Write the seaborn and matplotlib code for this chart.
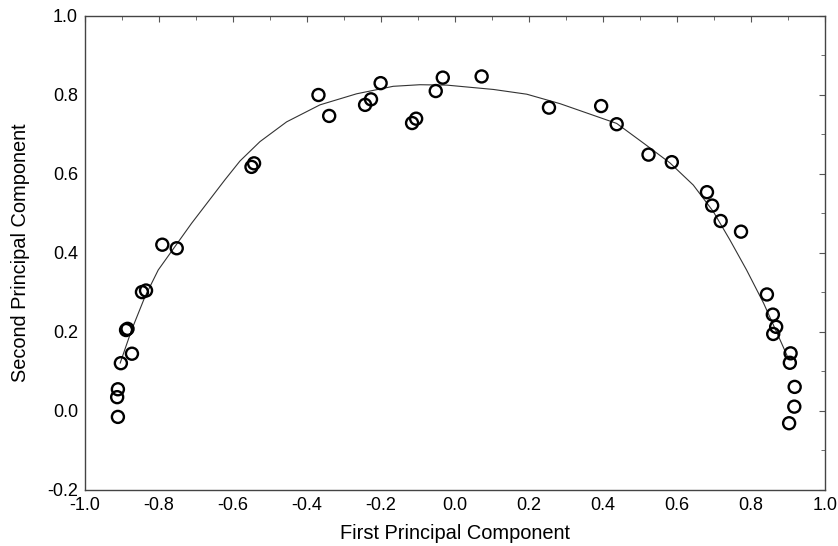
import matplotlib
matplotlib.use("Agg")
import matplotlib.pyplot as plt
import seaborn as sns
import pandas as pd
from matplotlib.ticker import MultipleLocator

# observed scores
pc1 = [-0.911, -0.913, -0.911, -0.903, -0.873, -0.889, -0.885, -0.846, -0.835,
       -0.791, -0.752, -0.550, -0.543, -0.369, -0.340, -0.243, -0.227, -0.201,
       -0.116, -0.105, -0.052, -0.033, 0.072, 0.254, 0.395, 0.437, 0.523,
       0.586, 0.681, 0.695, 0.718, 0.773, 0.843, 0.859, 0.868, 0.860, 0.907,
       0.905, 0.918, 0.917, 0.903]
pc2 = [-0.015, 0.035, 0.055, 0.121, 0.145, 0.205, 0.208, 0.301, 0.305,
       0.421, 0.412, 0.618, 0.627, 0.800, 0.747, 0.775, 0.789, 0.830,
       0.729, 0.740, 0.810, 0.844, 0.847, 0.768, 0.772, 0.726, 0.649,
       0.630, 0.554, 0.520, 0.481, 0.454, 0.295, 0.244, 0.213, 0.195, 0.146,
       0.122, 0.061, 0.011, -0.031]

# fitted curve
curve_x = [-0.905, -0.874, -0.838, -0.802, -0.757, -0.712, -0.667, -0.622,
           -0.581, -0.527, -0.455, -0.365, -0.266, -0.167, -0.095, -0.022,
           0.104, 0.194, 0.284, 0.437, 0.514, 0.581, 0.644, 0.698, 0.743,
           0.788, 0.834, 0.869, 0.900]
curve_y = [0.121, 0.205, 0.289, 0.357, 0.416, 0.475, 0.530, 0.585,
           0.633, 0.682, 0.732, 0.775, 0.803, 0.822, 0.826, 0.825,
           0.814, 0.802, 0.778, 0.728, 0.675, 0.628, 0.572, 0.505, 0.433,
           0.357, 0.273, 0.200, 0.135]

sns.set_style("white")
plt.rcParams['font.family'] = ['Liberation Sans', 'DejaVu Sans']
plt.rcParams['text.color'] = 'black'
plt.rcParams['axes.labelcolor'] = 'black'
plt.rcParams['xtick.labelcolor'] = 'black'
plt.rcParams['ytick.labelcolor'] = 'black'

pts = pd.DataFrame({'x': pc1, 'y': pc2})
curve = pd.DataFrame({'x': curve_x, 'y': curve_y})

fig = plt.figure(figsize=(8.38, 5.46), dpi=100)
ax = fig.add_axes([0.1014, 0.1026, 0.8831, 0.8681])

sns.lineplot(data=curve, x='x', y='y', ax=ax, color='#333333', linewidth=0.8, sort=False)
sns.scatterplot(data=pts, x='x', y='y', ax=ax, s=75, facecolor='none',
                edgecolor='black', linewidth=1.7, zorder=3)

ax.set_xlim(-1.0, 1.0)
ax.set_ylim(-0.2, 1.0)
ax.xaxis.set_major_locator(MultipleLocator(0.2))
ax.xaxis.set_minor_locator(MultipleLocator(0.1))
ax.yaxis.set_major_locator(MultipleLocator(0.2))
ax.yaxis.set_minor_locator(MultipleLocator(0.1))
ax.xaxis.set_major_formatter(plt.FormatStrFormatter('%.1f'))
ax.yaxis.set_major_formatter(plt.FormatStrFormatter('%.1f'))
ax.tick_params(which='both', direction='in', top=True, right=True,
               color='#555555', labelsize=13, labelcolor='black')
ax.tick_params(which='major', length=4, width=0.8)
ax.tick_params(which='minor', length=3, width=0.6)
ax.tick_params(axis='y', pad=5)
ax.tick_params(axis='x', pad=5)
for sp in ax.spines.values():
    sp.set_color('#444444')
    sp.set_linewidth(1.0)

ax.set_xlabel("First Principal Component", fontsize=14.4, labelpad=7, color='black')
ax.set_ylabel("Second Principal Component", fontsize=14.4, labelpad=12, color='black')

fig.savefig("out.png", dpi=100)
